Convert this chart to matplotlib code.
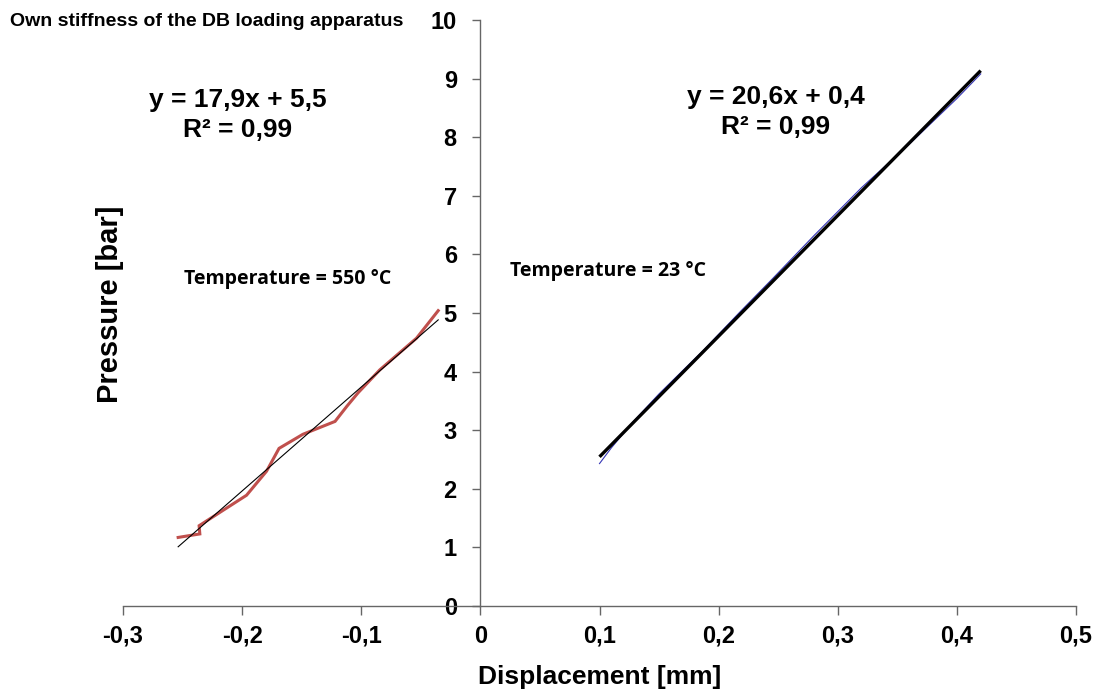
import matplotlib
matplotlib.use('Agg')
import matplotlib.pyplot as plt
import numpy as np

# 550 °C series (red)
x_550 = [-0.2537, -0.2355, -0.2361, -0.1963, -0.1795, -0.1690, -0.1490,
         -0.1220, -0.1120, -0.1026, -0.0844, -0.0536, -0.0354]
y_550 = [1.17, 1.23, 1.37, 1.89, 2.30, 2.69, 2.93,
         3.15, 3.41, 3.64, 4.03, 4.57, 5.04]

# 23 °C series (blue)
x_23 = [0.100, 0.110, 0.128, 0.150, 0.187, 0.218, 0.245, 0.280, 0.320, 0.360, 0.400, 0.420]
y_23 = [2.43, 2.70, 3.14, 3.62, 4.36, 5.02, 5.58, 6.32, 7.14, 7.88, 8.66, 9.08]

x_ticks = [-0.3, -0.2, -0.1, 0, 0.1, 0.2, 0.3, 0.4, 0.5]
x_tick_labels = ['-0,3', '-0,2', '-0,1', '0', '0,1', '0,2', '0,3', '0,4', '0,5']
y_ticks = list(range(0, 11))

eq_550 = 'y = 17,9x + 5,5\nR² = 0,99'
eq_23 = 'y = 20,6x + 0,4\nR² = 0,99'

plt.rcParams['font.family'] = ['Liberation Sans', 'DejaVu Sans']

fig = plt.figure(figsize=(10.98, 6.91), dpi=100)
ax = fig.add_axes([123 / 1098, 1 - 606 / 691, 953 / 1098, 586 / 691])

# measured curves
ax.plot(x_550, y_550, color='#C0504D', linewidth=2.2, solid_joinstyle='miter')
ax.plot(x_23, y_23, color='#3535B5', linewidth=0.8)

# linear trend lines
k1, b1 = np.polyfit(x_550, y_550, 1)
xs1 = np.array([min(x_550), max(x_550)])
ax.plot(xs1, k1 * xs1 + b1, color='black', linewidth=0.8)

k2, b2 = np.polyfit(x_23, y_23, 1)
xs2 = np.array([min(x_23), max(x_23)])
ax.plot(xs2, k2 * xs2 + b2, color='black', linewidth=2.4, solid_capstyle='butt')

ax.set_xlim(-0.3, 0.5)
ax.set_ylim(0, 10)

# axes crossing at the origin
for side in ['top', 'right']:
    ax.spines[side].set_visible(False)
ax.spines['left'].set_position(('data', 0))
ax.spines['bottom'].set_position(('data', 0))
for side in ['left', 'bottom']:
    ax.spines[side].set_color('#666666')
    ax.spines[side].set_linewidth(1.0)

ax.set_xticks(x_ticks)
ax.set_xticklabels(x_tick_labels, fontsize=17, fontweight='bold')
ax.set_yticks(y_ticks)
ax.set_yticklabels([str(v) for v in y_ticks], fontsize=17, fontweight='bold')
ax.tick_params(axis='x', direction='out', length=6.5, width=1, color='#666666', pad=7)
ax.tick_params(axis='y', direction='out', length=6, width=1, color='#666666', pad=11)

ax.set_xlabel('Displacement [mm]', fontsize=19, fontweight='bold', va='center')
ax.xaxis.set_label_coords(0.5, -0.121)
ax.set_ylabel('Pressure [bar]', fontsize=21, fontweight='bold', va='center')
ax.yaxis.set_label_coords(-0.0135, 0.514)

# title in the top-left corner
fig.text(10 / 1098, 1 - 22 / 691, 'Own stiffness of the DB loading apparatus',
         fontsize=14, fontweight='bold', ha='left', va='center')

# regression equations
ax.text(-0.204, 8.38, eq_550, fontsize=19, fontweight='bold', ha='center', va='center',
        linespacing=1.35)
ax.text(0.248, 8.43, eq_23, fontsize=19, fontweight='bold', ha='center', va='center',
        linespacing=1.35)

# temperature annotations
ax.text(-0.162, 5.58, 'Temperature = 550 °C', fontsize=14, fontweight='bold',
        ha='center', va='center', family=['Open Sans', 'DejaVu Sans'])
ax.text(0.1075, 5.72, 'Temperature = 23 °C', fontsize=14, fontweight='bold',
        ha='center', va='center', family=['Open Sans', 'DejaVu Sans'])

fig.savefig('out.png', dpi=100)
